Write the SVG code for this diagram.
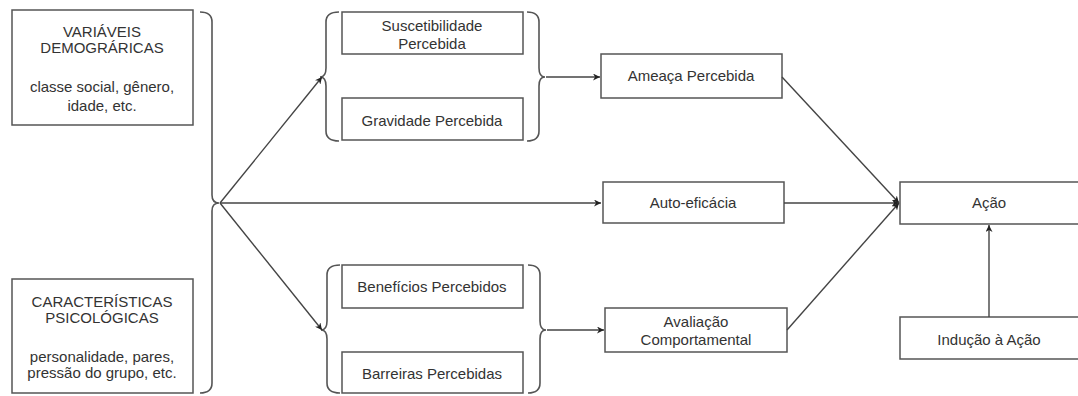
<svg xmlns="http://www.w3.org/2000/svg" width="1078" height="396" viewBox="0 0 1078 396">
<style>
.box{fill:#fff;stroke:#555;stroke-width:1.5}
.br{fill:none;stroke:#555;stroke-width:1.6}
.ln{fill:none;stroke:#444;stroke-width:1.4;marker-end:url(#ah)}
text{font-family:"Liberation Sans",Arial,sans-serif;font-size:15px;fill:#333;text-anchor:middle}
</style>
<defs>
<marker id="ah" viewBox="0 0 10 10" refX="10" refY="5" markerWidth="7" markerHeight="7" orient="auto" markerUnits="userSpaceOnUse">
<path d="M0,0 L10,5 L0,10 L3,5 Z" fill="#222"/>
</marker>
</defs>
<rect width="1078" height="396" fill="#fff"/>
<g id="demograficas">
<rect class="box" x="12" y="10" width="181" height="115"/>
<text x="102" y="37">VARIÁVEIS</text>
<text x="102" y="53">DEMOGRÁRICAS</text>
<text x="102" y="92">classe social, gênero,</text>
<text x="102" y="111">idade, etc.</text>
</g>
<g id="psicologicas">
<rect class="box" x="12" y="279" width="181" height="114"/>
<text x="102" y="307">CARACTERÍSTICAS</text>
<text x="102" y="323">PSICOLÓGICAS</text>
<text x="102" y="362">personalidade, pares,</text>
<text x="102" y="378">pressão do grupo, etc.</text>
</g>
<g id="brace-left">
<path class="br" d="M200,12 Q212,12 212,22 L212,195 Q212,203 219,203 Q212,203 212,211 L212,383 Q212,393 200,393"/>
</g>
<g id="grupo-ameaca">
<path class="br" d="M339,12 Q326,12 326,22 L326,68 Q326,77 320,77 Q326,77 326,86 L326,131 Q326,141 339,141"/>
<path class="br" d="M527,12 Q539,12 539,22 L539,68 Q539,77 545,77 Q539,77 539,86 L539,131 Q539,141 527,141"/>
<g id="suscetibilidade">
<rect class="box" x="342" y="12" width="181" height="42"/>
<text x="432" y="31">Suscetibilidade</text>
<text x="432" y="49">Percebida</text>
</g>
<g id="gravidade">
<rect class="box" x="342" y="98" width="181" height="42"/>
<text x="432" y="126">Gravidade Percebida</text>
</g>
</g>
<g id="grupo-avaliacao">
<path class="br" d="M340,265 Q327,265 327,275 L327,321 Q327,330 321,330 Q327,330 327,339 L327,383 Q327,393 340,393"/>
<path class="br" d="M528,265 Q540,265 540,275 L540,321 Q540,330 546,330 Q540,330 540,339 L540,383 Q540,393 528,393"/>
<g id="beneficios">
<rect class="box" x="342" y="265" width="181" height="43"/>
<text x="432" y="292">Benefícios Percebidos</text>
</g>
<g id="barreiras">
<rect class="box" x="342" y="352" width="181" height="41"/>
<text x="432" y="379">Barreiras Percebidas</text>
</g>
</g>
<g id="ameaca">
<rect class="box" x="601" y="54" width="181" height="44"/>
<text x="691" y="81">Ameaça Percebida</text>
</g>
<g id="autoeficacia">
<rect class="box" x="603" y="182" width="181" height="41"/>
<text x="693" y="208">Auto-eficácia</text>
</g>
<g id="avaliacao">
<rect class="box" x="605" y="308" width="182" height="44"/>
<text x="696" y="327">Avaliação</text>
<text x="696" y="345">Comportamental</text>
</g>
<g id="acao">
<rect class="box" x="900" y="182" width="182" height="42"/>
<text x="989" y="208">Ação</text>
</g>
<g id="inducao">
<rect class="box" x="900" y="317" width="182" height="42"/>
<text x="989" y="345">Indução à Ação</text>
</g>
<g id="connectors">
<line class="ln" x1="220" y1="203" x2="322" y2="77"/>
<line class="ln" x1="220" y1="203" x2="601" y2="203"/>
<line class="ln" x1="220" y1="203" x2="322" y2="330"/>
<line class="ln" x1="546" y1="77" x2="600" y2="77"/>
<line class="ln" x1="547" y1="330" x2="604" y2="330"/>
<line class="ln" x1="782" y1="77" x2="899" y2="203"/>
<line class="ln" x1="784" y1="203" x2="899" y2="203"/>
<line class="ln" x1="787" y1="330" x2="899" y2="203"/>
<line class="ln" x1="989" y1="317" x2="989" y2="225"/>
</g>
</svg>
